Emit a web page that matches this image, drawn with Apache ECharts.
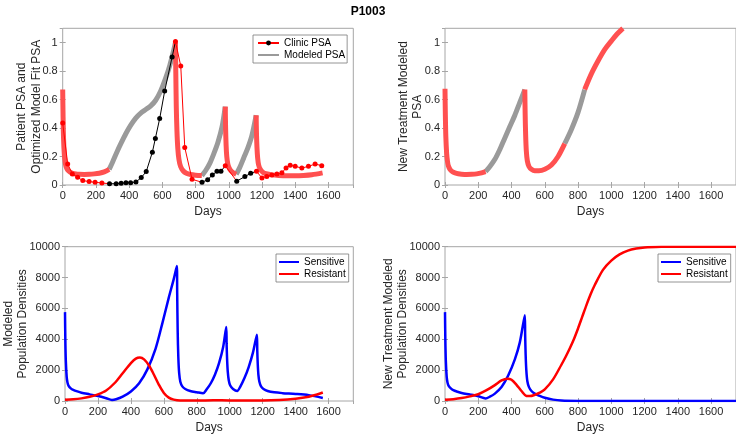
<!DOCTYPE html>
<html>
<head>
<meta charset="utf-8">
<script src="https://cdn.jsdelivr.net/npm/echarts@6/dist/echarts.min.js"></script>
<style>
  html, body { margin: 0; padding: 0; background: #fff; }
  #chart { width: 736px; height: 435px; }
</style>
</head>
<body>
<div id="chart"></div>
<script>
// ---- data ----

// clinic PSA measurements, flag 1 = on treatment (red), 0 = off (black)
const clinicDays = [0, 30, 58, 90, 121, 159, 195, 236,
  282, 322, 352, 381, 409, 441, 473, 503, 540, 558, 584, 614, 659,
  679, 711, 735, 779,
  839, 873, 901, 929, 953,
  979,
  1048, 1097, 1132,
  1167, 1200, 1229, 1260, 1290, 1320, 1345, 1370, 1400, 1440, 1480, 1520, 1560];
const clinicPSA = [0.435, 0.148, 0.078, 0.054, 0.031, 0.024, 0.019, 0.014,
  0.009, 0.009, 0.012, 0.016, 0.016, 0.021, 0.052, 0.094, 0.23, 0.327, 0.466, 0.659, 0.899,
  1.007, 0.835, 0.264, 0.04,
  0.019, 0.037, 0.07, 0.096, 0.096,
  0.135,
  0.027, 0.059, 0.082,
  0.096, 0.049, 0.06, 0.07, 0.077, 0.086, 0.119, 0.138, 0.131, 0.119, 0.131, 0.147, 0.136];
const clinicOn = [1, 1, 1, 1, 1, 1, 1, 1,
  0, 0, 0, 0, 0, 0, 0, 0, 0, 0, 0, 0, 0,
  1, 1, 1, 1,
  0, 0, 0, 0, 0,
  1,
  0, 0, 0,
  1, 1, 1, 1, 1, 1, 1, 1, 1, 1, 1, 1, 1];

// optimized model fit PSA
const fitDays = [0, 2, 5, 10, 15, 20, 30, 45, 60, 80, 100, 130, 160, 190, 220, 250, 280,
  300, 326, 350, 380, 410, 440, 470, 500, 530, 560, 590, 620, 645, 665, 679,
  681, 684, 688, 693, 700, 710, 725, 745, 770, 800, 838,
  860, 885, 910, 935, 960, 979,
  981, 984, 988, 994, 1002, 1015, 1030, 1045,
  1065, 1090, 1115, 1140, 1165,
  1167, 1170, 1174, 1180, 1190, 1205, 1225, 1260, 1300, 1350, 1400, 1450, 1500, 1565];
const fitPSA = [0.67, 0.5, 0.33, 0.21, 0.16, 0.13, 0.105, 0.09, 0.082, 0.077, 0.075, 0.074, 0.075, 0.078, 0.083, 0.092, 0.11,
  0.16, 0.23, 0.29, 0.36, 0.42, 0.47, 0.505, 0.53, 0.555, 0.595, 0.66, 0.75, 0.84, 0.93, 1.0,
  0.8, 0.55, 0.38, 0.26, 0.18, 0.13, 0.1, 0.083, 0.074, 0.069, 0.066,
  0.1, 0.15, 0.22, 0.3, 0.41, 0.55,
  0.4, 0.28, 0.2, 0.15, 0.12, 0.097, 0.084, 0.076,
  0.12, 0.19, 0.26, 0.35, 0.49,
  0.36, 0.26, 0.19, 0.14, 0.11, 0.09, 0.079, 0.071, 0.067, 0.065, 0.065, 0.067, 0.072, 0.085];
const fitSwitch = [0, 280, 679, 838, 979, 1045, 1165, 1565];

// new treatment modeled PSA
const newDays = [0, 2, 5, 10, 15, 20, 30, 45, 60, 80, 100, 130, 160, 190, 220, 244,
  270, 300, 330, 360, 390, 420, 450, 480,
  482, 485, 489, 495, 505, 520, 540, 565, 600, 640, 680, 720,
  760, 800, 840,
  880, 920, 960, 1000, 1035, 1070];
const newPSA = [0.675, 0.5, 0.34, 0.22, 0.165, 0.135, 0.11, 0.093, 0.085, 0.079, 0.076, 0.074, 0.075, 0.078, 0.085, 0.094,
  0.13, 0.18, 0.25, 0.33, 0.41, 0.49, 0.58, 0.67,
  0.5, 0.35, 0.24, 0.17, 0.13, 0.11, 0.1, 0.1, 0.11, 0.14, 0.2, 0.29,
  0.39, 0.51, 0.67,
  0.78, 0.87, 0.95, 1.01, 1.06, 1.1];
const newSwitch = [0, 244, 480, 720, 840, 1070];

// modeled population densities (fit)
const sensDays = [0, 2, 5, 10, 15, 22, 35, 50, 75, 100, 150, 200, 250, 285, 310, 350, 400, 450, 500, 550, 590, 630, 660, 679,
  681, 684, 688, 693, 700, 712, 730, 760, 800, 838,
  860, 885, 910, 935, 960, 979,
  981, 984, 988, 994, 1003, 1020, 1045,
  1065, 1090, 1115, 1140, 1165,
  1167, 1170, 1174, 1180, 1190, 1205, 1230, 1270, 1320, 1400, 1480, 1565];
const sensVals = [5760, 4000, 2600, 1600, 1200, 980, 820, 720, 620, 540, 430, 320, 180, 70, 110, 280, 620, 1150, 2050, 3400, 5000, 6700, 7900, 8750,
  7000, 4500, 2800, 1800, 1250, 950, 780, 650, 570, 500,
  760, 1150, 1700, 2450, 3500, 4800,
  3700, 2700, 1900, 1350, 1000, 780, 650,
  950, 1500, 2200, 3100, 4300,
  3300, 2400, 1700, 1250, 950, 780, 650, 560, 510, 460, 380, 200];
const resDays = [0, 50, 100, 150, 200, 250, 300, 350, 400, 430, 455, 480, 510, 540, 570, 600, 630, 660, 700,
  800, 900, 1000, 1100, 1200, 1300, 1400, 1480, 1530, 1565];
const resVals = [80, 110, 170, 270, 430, 680, 1150, 1800, 2450, 2750, 2820, 2700, 2300, 1700, 1050, 520, 220, 90, 35,
  30, 50, 40, 30, 30, 60, 150, 280, 420, 550];

// new treatment population densities
const newSensDays = [0, 2, 5, 10, 15, 22, 35, 50, 75, 100, 150, 200, 244, 270, 300, 340, 380, 420, 450, 480,
  482, 485, 489, 495, 505, 520, 540, 570, 600, 650, 700, 800, 1000, 1750];
const newSensVals = [5760, 4000, 2600, 1600, 1200, 980, 820, 700, 600, 520, 420, 310, 170, 280, 480, 900, 1650, 2700, 3800, 5550,
  4300, 3000, 2000, 1300, 900, 650, 480, 330, 210, 90, 30, 5, 0, 0];
const newResDays = [0, 50, 100, 150, 200, 250, 300, 340, 375, 400, 430, 460, 490, 510, 540, 570, 600, 650, 700,
  725, 750, 775, 800, 825, 850, 875, 900, 950, 1000, 1050, 1100, 1150, 1200, 1300, 1400, 1750];
const newResVals = [80, 120, 190, 300, 440, 700, 1030, 1330, 1450, 1380, 1050, 650, 330, 320, 400, 540, 750, 1400, 2350,
  2850, 3400, 4000, 4700, 5450, 6200, 6900, 7500, 8500, 9100, 9500, 9750, 9880, 9950, 9990, 10000, 10000];

const xTicks = { min: 0, max: 1750, interval: 200 };

// ---- styling ----
const FONT = '"Liberation Sans", Arial, Helvetica, sans-serif';
const BOX = '#a6a6a6';
const TEXT = '#262626';
const RED_FIT = '#ff5050';
const GRAY_FIT = '#9a9a9a';

const grids = [
  { left: 62.7, top: 28.3, width: 290.6, height: 156.7 },
  { left: 445, top: 28.3, width: 291, height: 156.7 },
  { left: 62.7, top: 246.7, width: 290.6, height: 155 },
  { left: 445, top: 246.7, width: 291, height: 155 }
];
const yConf = [
  { max: 1.1, interval: 0.2, name: 'Patient PSA and\nOptimized Model Fit PSA', gap: 19 },
  { max: 1.1, interval: 0.2, name: 'New Treatment Modeled\nPSA', gap: 20 },
  { max: 10000, interval: 2000, name: 'Modeled\nPopulation Densities', gap: 35 },
  { max: 10000, interval: 2000, name: 'New Treatment Modeled\nPopulation Densities', gap: 35 }
];

const fmt = v => String(+v.toFixed(2));
const tick = { inside: true, length: 3, lineStyle: { color: BOX, width: 1 } };
const xAxes = [];
const yAxes = [];
grids.forEach((g, i) => {
  xAxes.push({
    gridIndex: i, type: 'value', position: 'bottom', ...xTicks,
    axisLine: { show: false }, axisTick: tick, splitLine: { show: false },
    axisLabel: { margin: 5, fontSize: 11, color: TEXT, fontFamily: FONT, showMaxLabel: false, formatter: fmt },
    name: 'Days', nameLocation: 'middle', nameGap: 21, nameMoveOverlap: false,
    nameTextStyle: { fontSize: 12, color: TEXT, fontFamily: FONT }
  });
  xAxes.push({
    gridIndex: i, type: 'value', position: 'top', ...xTicks,
    axisLine: { show: false }, axisTick: tick, splitLine: { show: false }, axisLabel: { show: false }
  });
  const y = yConf[i];
  yAxes.push({
    gridIndex: i, type: 'value', position: 'left', min: 0, max: y.max, interval: y.interval,
    axisLine: { show: false }, axisTick: tick, splitLine: { show: false },
    axisLabel: { margin: 5, fontSize: 11, color: TEXT, fontFamily: FONT, showMaxLabel: y.max === 10000, formatter: fmt },
    name: y.name, nameLocation: 'middle', nameGap: y.gap, nameRotate: 90, nameMoveOverlap: false,
    nameTextStyle: { fontSize: 12, lineHeight: 14.5, color: TEXT, fontFamily: FONT, align: 'center' }
  });
  yAxes.push({
    gridIndex: i, type: 'value', position: 'right', min: 0, max: y.max, interval: y.interval,
    axisLine: { show: false }, axisTick: tick, splitLine: { show: false }, axisLabel: { show: false }
  });
});

const pairs = (days, vals) => days.map((d, k) => [d, vals[k]]);

// modeled PSA split into treatment (red) / off-treatment (gray) phases
const phased = (days, vals, switches, gi) => {
  const out = [];
  for (let s = 0; s < switches.length - 1; s++) {
    const a = switches[s], b = switches[s + 1];
    const data = pairs(days, vals).filter(p => p[0] >= a && p[0] <= b);
    const on = s % 2 === 0;
    out.push({
      type: 'line', xAxisIndex: gi * 2, yAxisIndex: gi * 2, data,
      smooth: 0.3, symbol: 'none', silent: true, z: on ? 3 : 2,
      lineStyle: { color: on ? RED_FIT : GRAY_FIT, width: 5, cap: 'butt' }
    });
  }
  return out;
};

// clinic PSA: each run of same treatment state, line continues to the next run's first point
const clinicSeries = () => {
  const out = [];
  let start = 0;
  for (let k = 1; k <= clinicDays.length; k++) {
    if (k === clinicDays.length || clinicOn[k] !== clinicOn[start]) {
      const col = clinicOn[start] ? '#ff0000' : '#000000';
      const data = [];
      for (let j = start; j < k; j++) data.push([clinicDays[j], clinicPSA[j]]);
      if (k < clinicDays.length) data.push({ value: [clinicDays[k], clinicPSA[k]], symbol: 'none' });
      out.push({
        type: 'line', xAxisIndex: 0, yAxisIndex: 0, data, silent: true, z: 5,
        symbol: 'circle', symbolSize: 5, showAllSymbol: true,
        itemStyle: { color: col }, lineStyle: { color: col, width: 1 }
      });
      start = k;
    }
  }
  return out;
};

const popLine = (name, days, vals, color, gi) => ({
  name, type: 'line', xAxisIndex: gi * 2, yAxisIndex: gi * 2, data: pairs(days, vals),
  smooth: 0.3, symbol: 'none', silent: true,
  itemStyle: { color }, lineStyle: { color, width: 2.5 }
});

const series = [
  ...phased(fitDays, fitPSA, fitSwitch, 0),
  ...clinicSeries(),
  // legend-only entries for the first panel
  { name: 'Clinic PSA', type: 'line', xAxisIndex: 0, yAxisIndex: 0, data: [],
    symbol: 'circle', symbolSize: 5, itemStyle: { color: '#000' }, lineStyle: { color: '#ff0000', width: 1 } },
  { name: 'Modeled PSA', type: 'line', xAxisIndex: 0, yAxisIndex: 0, data: [],
    symbol: 'none', itemStyle: { color: GRAY_FIT }, lineStyle: { color: GRAY_FIT, width: 4 } },
  ...phased(newDays, newPSA, newSwitch, 1),
  popLine('Sensitive', sensDays, sensVals, '#0000ff', 2),
  popLine('Resistant', resDays, resVals, '#ff0000', 2),
  popLine('Sensitive', newSensDays, newSensVals, '#0000ff', 3),
  popLine('Resistant', newResDays, newResVals, '#ff0000', 3)
];

const noDot = { opacity: 0 };
const legendBase = {
  orient: 'vertical', selectedMode: false, itemWidth: 21, itemHeight: 6, itemGap: 0,
  padding: [2, 2, 2, 4], borderColor: '#7a7a7a', borderWidth: 0.8, backgroundColor: '#fff',
  textStyle: { fontSize: 10, lineHeight: 12, color: '#000', fontFamily: FONT }
};
const popLegend = [{ name: 'Sensitive', itemStyle: noDot }, { name: 'Resistant', itemStyle: noDot }];

const chart = echarts.init(document.getElementById('chart'), null, { renderer: 'canvas' });
chart.setOption({
  animation: false,
  backgroundColor: '#fff',
  title: {
    text: 'P1003', left: 'center', top: 1,
    textStyle: { fontSize: 12, fontWeight: 'bold', color: '#000', fontFamily: FONT }
  },
  grid: grids.map(g => ({ ...g, show: true, borderColor: BOX, borderWidth: 1, backgroundColor: 'transparent' })),
  xAxis: xAxes,
  yAxis: yAxes,
  legend: [
    { ...legendBase, left: 253, top: 35,
      data: ['Clinic PSA', { name: 'Modeled PSA', itemStyle: noDot }] },
    { ...legendBase, left: 276, top: 254, itemWidth: 20, padding: [2, 3, 2, 2], data: popLegend },
    { ...legendBase, left: 658, top: 254, itemWidth: 20, padding: [2, 3, 2, 2], data: popLegend }
  ],
  series
});
</script>
</body>
</html>
